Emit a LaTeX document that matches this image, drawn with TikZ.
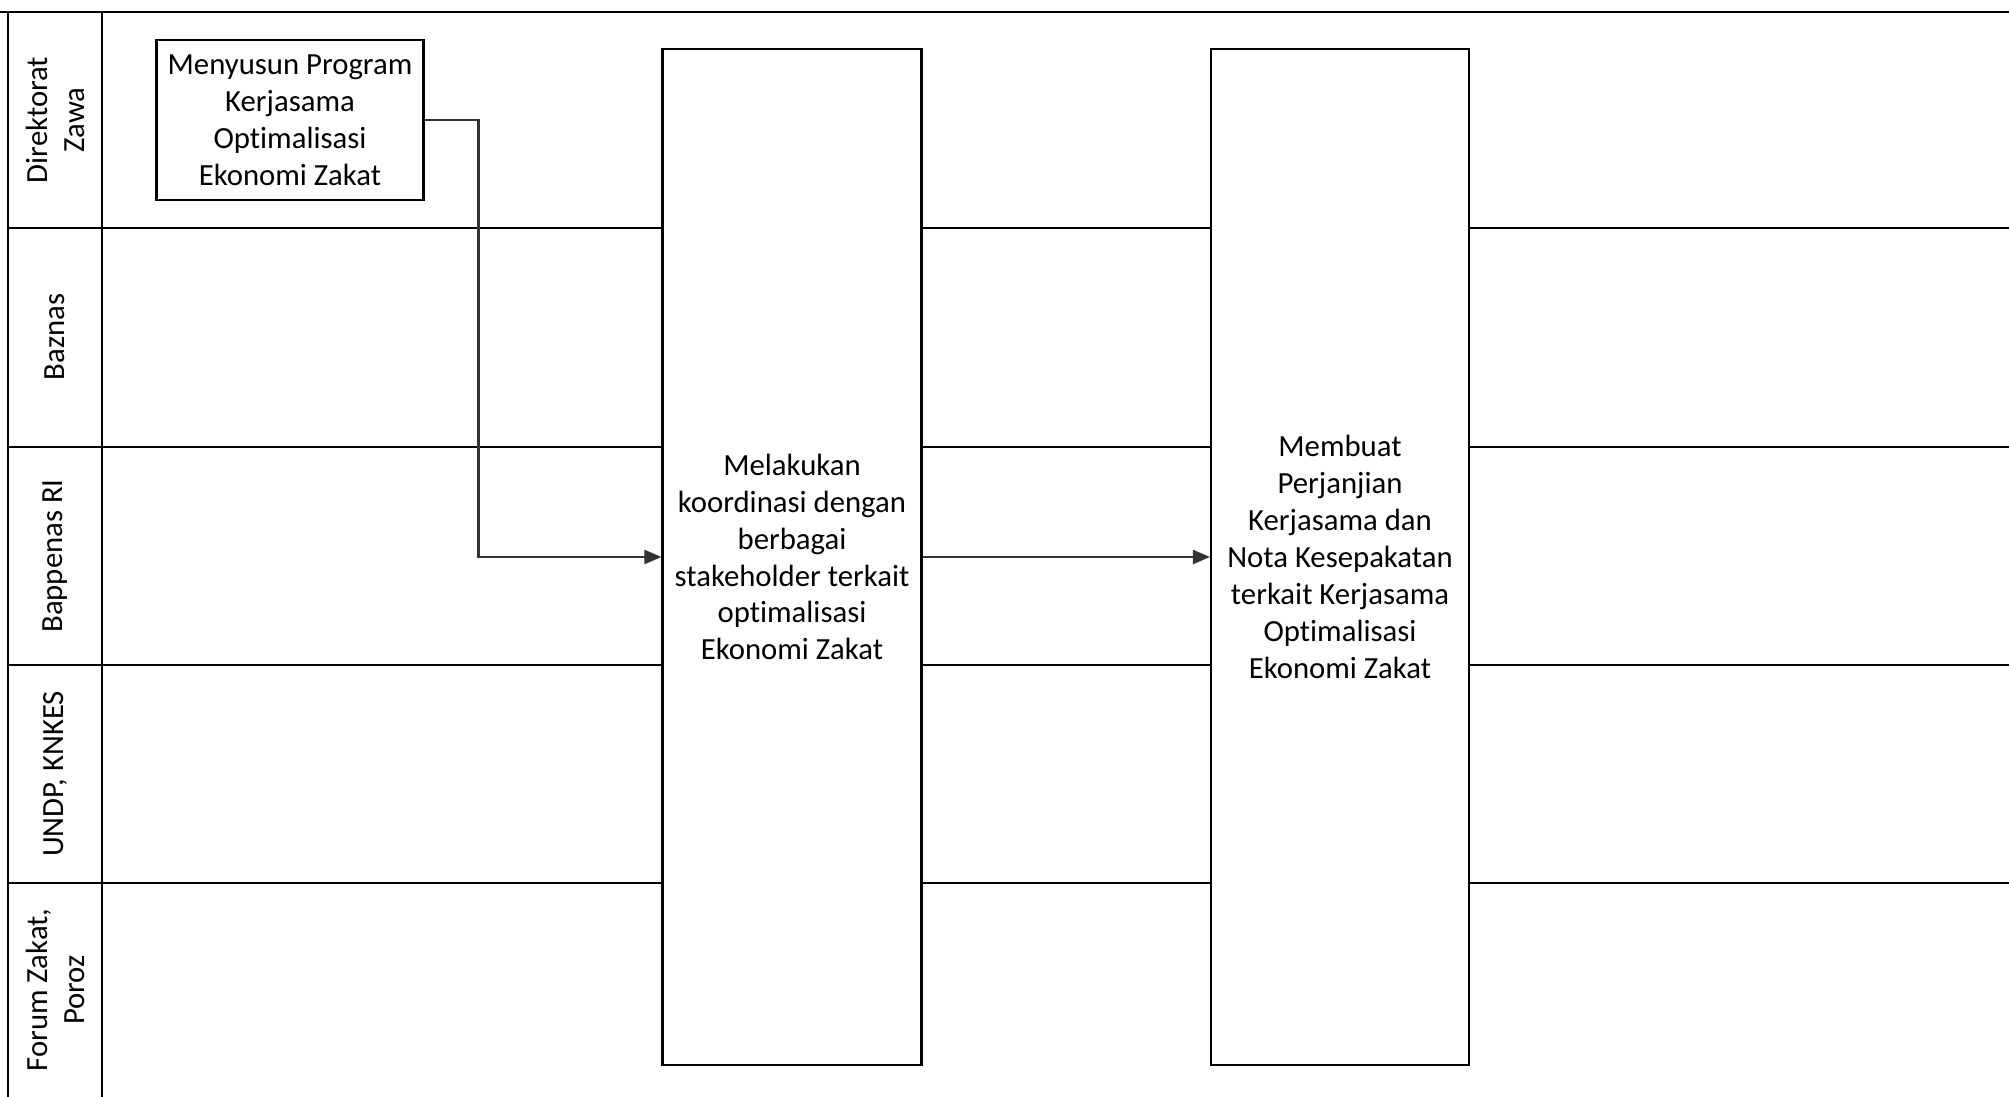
\documentclass[tikz,border=0pt]{standalone}
\usepackage{fontspec}
\setmainfont[Ligatures=CommonOff]{Carlito}
\usetikzlibrary{arrows.meta}

\begin{document}
\begin{tikzpicture}[x=0.02cm, y=-0.02cm,
    lane/.style={rotate=90, align=center, font=\fontsize{17.5}{21}\selectfont},
    proc/.style={draw, fill=white, line width=1.2pt, align=center, font=\fontsize{17.5}{21}\selectfont},
    flow/.style={line width=1.2pt, draw=black!80, -{Triangle[length=0.34cm, width=0.28cm]}}]
    \useasboundingbox (0,0) rectangle (2009,1097);

    % lanes
    \draw[line width=1.2pt] (0,12) -- (2009,12);
    \foreach \y in {228,447,665,883}{
        \draw[line width=1.2pt] (8,\y) -- (2009,\y);
    }
    \draw[line width=1.2pt] (8,12) -- (8,1097);
    \draw[line width=1.2pt] (102,12) -- (102,1097);

    \foreach \i/\y/\t in {%
        1/120/{Direktorat\\Zawa},
        2/337/{Baznas},
        3/556/{Bappenas RI},
        4/774/{UNDP, KNKES},
        5/990/{Forum Zakat,\\Poroz}%
        }{
        \node[lane] (lane\i) at (55,\y) {\t};
    }

    % steps
    \node[proc, minimum width=5.34cm, minimum height=3.2cm] (prog) at (290,120)
        {Menyusun Program\\Kerjasama\\Optimalisasi\\Ekonomi Zakat};
    \node[proc, minimum width=5.18cm, minimum height=20.34cm] (koord) at (792,557)
        {Melakukan\\koordinasi dengan\\berbagai\\stakeholder terkait\\optimalisasi\\Ekonomi Zakat};
    \node[proc, minimum width=5.16cm, minimum height=20.34cm] (nota) at (1340,557)
        {Membuat\\Perjanjian\\Kerjasama dan\\Nota Kesepakatan\\terkait Kerjasama\\Optimalisasi\\Ekonomi Zakat};

    \draw[flow] (prog.east) -- ++(54,0) |- (koord.west);
    \draw[flow] (koord.east) -- (nota.west);

\end{tikzpicture}
\end{document}
